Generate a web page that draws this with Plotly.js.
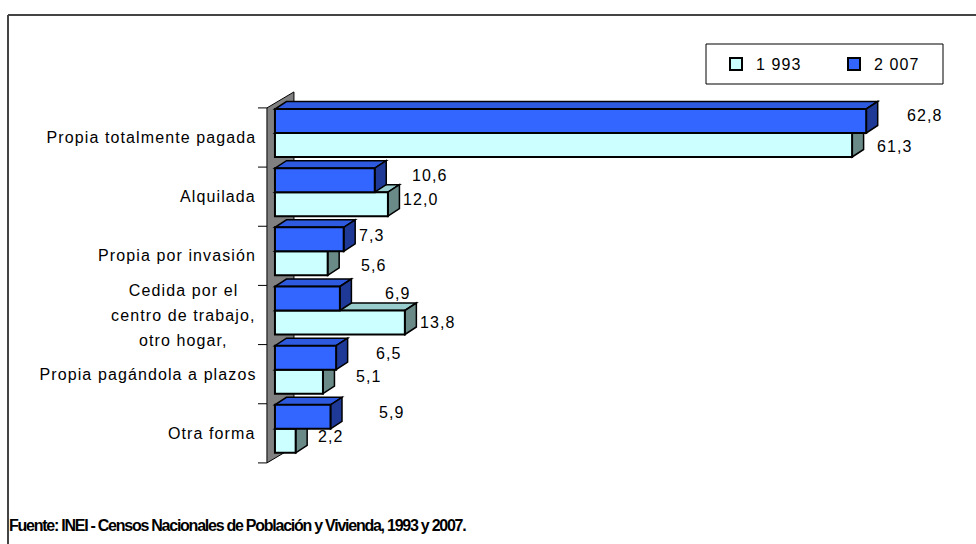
<!DOCTYPE html>
<html>
<head>
<meta charset="utf-8">
<script src="https://cdn.plot.ly/plotly-3.0.1.min.js"></script>
<style>
  html, body { margin: 0; padding: 0; background: #ffffff; }
  #chart { width: 976px; height: 544px; }
  .legendtext { letter-spacing: 1.1px; }
  g.annotation text { letter-spacing: 1.1px; }
  g.annotation[data-index="0"] text { letter-spacing: -1.25px; }
</style>
</head>
<body>
<div id="chart"></div>
<script>
// ---------------- data ----------------
const categories = [
  'Propia totalmente pagada',
  'Alquilada',
  'Propia por invasión',
  'Cedida por el<br>centro de trabajo,<br>otro hogar,',
  'Propia pagándola a plazos',
  'Otra forma'
];
const seriesNames = ['1 993', '2 007'];
const values1993 = [61.3, 12.0, 5.6, 13.8, 5.1, 2.2];
const values2007 = [62.8, 10.6, 7.3, 6.9, 6.5, 5.9];
const sourceNote = 'Fuente: INEI - Censos Nacionales de Población y Vivienda, 1993 y 2007.';

// ---------------- style / geometry ----------------
const FONT = '"Liberation Sans", Arial, sans-serif';
const FS = 16, LS = 1.1;
const W = 976, H = 544;
const M = { l: 258, r: 42, t: 85, b: 74 };
const plotW = W - M.l - M.r, plotH = H - M.t - M.b;
const xRange = [-1.8, 70];
const yRange = [5.6197, -0.8873];
const pxPerX = plotW / (xRange[1] - xRange[0]);
const pxPerY = plotH / (yRange[0] - yRange[1]);
const px2paperX = p => (p - M.l) / plotW;
const px2paperY = p => (H - M.b - p) / plotH;

const colors = {
  front1993: '#CCFFFF', top1993: '#99CCCC', side1993: '#6A8A88',
  front2007: '#3366FF', top2007: '#2E5AE0', side2007: '#1F3A96',
  wall: '#808080'
};
const depthX = 11.5 / pxPerX, depthY = -7.5 / pxPerY;       // bar 3D depth
const barW = 24 / pxPerY;
const off2007 = -28.5 / pxPerY;
const off1993 = off2007 + barW;
const wallFront = -8 / pxPerX, wallBack = 19 / pxPerX, wallDy = -16 / pxPerY;

// label placement (pixels): gap after bar front end, and lift above bar centre
const labelPlacement = {
  gap2007: [41, 37, 15, 45, 40, 48],
  gap1993: [25, 15, 33, 15, 33, 22],
  lift2007: [5.5, 4.7, 4, 5, 4.5, 4.7],
  lift1993: [-1.7, 4.2, -2.6, 0, 4.7, 4.2]
};

const idx = categories.map((_, i) => i);
const fmt = v => v.toFixed(1).replace('.', ',');

// ---------------- traces (front faces) ----------------
const traces = [
  {
    type: 'bar', orientation: 'h', name: seriesNames[0],
    x: values1993, y: idx, base: 0, offset: off1993, width: barW,
    marker: { color: colors.front1993, line: { color: '#000', width: 2 } },
    hoverinfo: 'x+name'
  },
  {
    type: 'bar', orientation: 'h', name: seriesNames[1],
    x: values2007, y: idx, base: 0, offset: off2007, width: barW,
    marker: { color: colors.front2007, line: { color: '#000', width: 2 } },
    hoverinfo: 'x+name'
  }
];

// ---------------- shapes (3D wall, top/side faces, ticks, frames) ----------------
function poly(pts, fill, lw) {
  return {
    type: 'path', xref: 'x', yref: 'y', layer: 'below',
    path: 'M' + pts.map(p => p[0] + ',' + p[1]).join('L') + 'Z',
    fillcolor: fill, line: { color: '#000', width: lw }
  };
}
const shapes = [];
const nCat = categories.length;
shapes.push(poly([
  [wallFront, -0.5], [wallBack, -0.5 + wallDy],
  [wallBack, nCat - 0.5 + wallDy], [wallFront, nCat - 0.5]
], colors.wall, 1));
for (let k = 0; k <= nCat; k++) {
  shapes.push({ type: 'line', xref: 'x', yref: 'y', layer: 'below',
    x0: wallFront - 9 / pxPerX, x1: wallFront, y0: k - 0.5, y1: k - 0.5,
    line: { color: '#000', width: 1 } });
}
idx.forEach(i => {
  [[values1993[i], off1993, colors.top1993, colors.side1993],
   [values2007[i], off2007, colors.top2007, colors.side2007]].forEach(([v, off, topC, sideC]) => {
    const t = i + off, b = t + barW;
    shapes.push(poly([[0, t], [v, t], [v + depthX, t + depthY], [depthX, t + depthY]], topC, 1.5));
    shapes.push(poly([[v, t], [v, b], [v + depthX, b + depthY], [v + depthX, t + depthY]], sideC, 1.5));
  });
});
// legend box
shapes.push({ type: 'rect', xref: 'paper', yref: 'paper',
  x0: px2paperX(706), x1: px2paperX(943), y0: px2paperY(84), y1: px2paperY(44),
  line: { color: '#000', width: 1 }, fillcolor: 'rgba(0,0,0,0)' });
// outer frame (top and left edges)
shapes.push({ type: 'line', xref: 'paper', yref: 'paper',
  x0: px2paperX(8), x1: px2paperX(977), y0: px2paperY(15), y1: px2paperY(15),
  line: { color: '#444', width: 2 } });
shapes.push({ type: 'line', xref: 'paper', yref: 'paper',
  x0: px2paperX(8), x1: px2paperX(8), y0: px2paperY(15), y1: px2paperY(545),
  line: { color: '#444', width: 2 } });

// ---------------- annotations ----------------
const annotations = [];
annotations.push({
  xref: 'paper', yref: 'paper', x: px2paperX(7), y: px2paperY(525),
  xanchor: 'left', yanchor: 'middle', align: 'left', showarrow: false,
  text: sourceNote, font: { family: FONT, size: 16, color: '#000', weight: 'bold' }
});
// category labels
const ctx = document.createElement('canvas').getContext('2d');
ctx.font = FS + 'px "Liberation Sans"';
idx.forEach(i => {
  const lines = categories[i].split('<br>');
  if (lines.length === 1) {
    annotations.push({
      xref: 'paper', yref: 'y', x: px2paperX(258), y: i,
      xanchor: 'right', yanchor: 'middle', align: 'right', showarrow: false,
      text: lines[0], font: { family: FONT, size: FS, color: '#000' }
    });
  } else {
    const maxW = Math.max(...lines.map(l => ctx.measureText(l).width + l.length * LS));
    const cx = 256 - maxW / 2;
    lines.forEach((l, j) => {
      annotations.push({
        xref: 'paper', yref: 'y', x: px2paperX(cx), y: i,
        yshift: ((lines.length - 1) / 2 - j) * 25,
        xanchor: 'center', yanchor: 'middle', align: 'center', showarrow: false,
        text: l, font: { family: FONT, size: FS, color: '#000' }
      });
    });
  }
});
// value labels
idx.forEach(i => {
  [[values2007[i], off2007, labelPlacement.gap2007[i], labelPlacement.lift2007[i]],
   [values1993[i], off1993, labelPlacement.gap1993[i], labelPlacement.lift1993[i]]].forEach(([v, off, gap, lift]) => {
    annotations.push({
      xref: 'x', yref: 'y', x: v, y: i + off + barW / 2,
      xanchor: 'left', yanchor: 'middle', align: 'left', showarrow: false,
      xshift: gap - 2, yshift: lift,
      text: fmt(v), font: { family: FONT, size: FS, color: '#000' }
    });
  });
});

// ---------------- layout ----------------
const layout = {
  width: W, height: H,
  margin: { l: M.l, r: M.r, t: M.t, b: M.b, pad: 0 },
  paper_bgcolor: '#ffffff', plot_bgcolor: 'rgba(0,0,0,0)',
  barmode: 'overlay',
  font: { family: FONT, size: FS, color: '#000' },
  xaxis: { range: xRange, visible: false, fixedrange: true },
  yaxis: { range: yRange, visible: false, fixedrange: true },
  showlegend: true,
  legend: {
    orientation: 'h', x: px2paperX(716), xanchor: 'left',
    y: px2paperY(64), yanchor: 'middle',
    bgcolor: 'rgba(0,0,0,0)', borderwidth: 0,
    font: { family: FONT, size: FS, color: '#000' },
    entrywidth: 73, entrywidthmode: 'pixels', itemwidth: 30, traceorder: 'normal'
  },
  shapes: shapes,
  annotations: annotations
};

Plotly.newPlot('chart', traces, layout, { staticPlot: true, displayModeBar: false });
</script>
</body>
</html>
